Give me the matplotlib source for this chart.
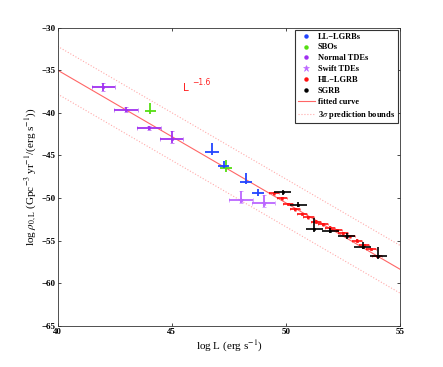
import numpy as np
import matplotlib
matplotlib.use("Agg")
import matplotlib.pyplot as plt
from matplotlib.lines import Line2D

# ---- data ----
ll_x = [46.76, 47.27, 48.26, 48.77]
ll_y = [-44.57, -46.2, -48.1, -49.45]
ll_xerr = [0.3, 0.26, 0.27, 0.26]
ll_yerr_lo = [0.4, 0.3, 0.3, 0.3]
ll_yerr_hi = [1.0, 0.5, 1.0, 0.5]

sbo_x = [44.06, 47.38]
sbo_y = [-39.8, -46.5]
sbo_xerr = [0.23, 0.25]
sbo_yerr_lo = [0.4, 0.4]
sbo_yerr_hi = [0.9, 1.0]

tde_x = [42.01, 43.0, 44.01, 45.0]
tde_y = [-37.03, -39.65, -41.8, -43.1]
tde_xerr = [0.51, 0.51, 0.51, 0.5]
tde_yerr_lo = [0.4, 0.3, 0.2, 0.4]
tde_yerr_hi = [0.5, 0.3, 0.2, 1.0]

swift_x = [48.03, 49.02]
swift_y = [-50.23, -50.6]
swift_xerr = [0.52, 0.51]
swift_yerr_lo = [0.3, 0.4]
swift_yerr_hi = [1.0, 1.0]

hl_x = [49.49, 49.82, 50.11, 50.40, 50.70, 50.99, 51.32, 51.62, 51.94, 52.23,
        52.52, 52.81, 53.13, 53.44, 53.73, 53.99]
hl_y = [-49.45, -50.04, -50.7, -51.33, -51.9, -52.27, -52.77, -53.1, -53.48, -53.75,
        -54.14, -54.5, -55.0, -55.5, -55.98, -56.8]
hl_xerr = [0.22] * 16
hl_yerr = [0.15] * 16

sg_x = [49.86, 50.55, 51.25, 51.94, 52.67, 53.37, 54.05]
sg_y = [-49.34, -50.8, -53.67, -53.83, -54.45, -55.7, -56.76]
sg_xerr = [0.37, 0.37, 0.37, 0.37, 0.37, 0.37, 0.37]
sg_yerr_lo = [0.3, 0.3, 0.3, 0.3, 0.3, 0.3, 0.4]
sg_yerr_hi = [0.3, 0.3, 1.3, 0.3, 0.3, 0.5, 1.05]

fit_intercept = -35.0   # at log L = 40
fit_slope = -1.557
bound_offset = 2.8

plt.rcParams['font.family'] = ['Liberation Serif', 'DejaVu Serif']
plt.rcParams['mathtext.fontset'] = 'stix'

fig = plt.figure(figsize=(4.43, 3.67), dpi=100)
ax = fig.add_axes([0.130, 0.112, 0.773, 0.813])

xl = np.array([40.0, 55.0])
yfit = fit_intercept + fit_slope * (xl - 40)
ax.plot(xl, yfit, color='#ff6666', lw=0.8, zorder=1)
ax.plot(xl, yfit + bound_offset, color='#ffaaaa', lw=0.8, ls=':', zorder=1)
ax.plot(xl, yfit - bound_offset, color='#ffaaaa', lw=0.8, ls=':', zorder=1)

ax.errorbar(tde_x, tde_y, xerr=tde_xerr, yerr=[tde_yerr_lo, tde_yerr_hi],
            color='#a030f0', marker='s', ms=2.0, mew=0.4, elinewidth=1.3, capsize=1.5, ls='none', zorder=3)
ax.errorbar(swift_x, swift_y, xerr=swift_xerr, yerr=[swift_yerr_lo, swift_yerr_hi],
            color='#bb66ff', marker='*', ms=3.5, mew=0.4, elinewidth=1.3, capsize=1.5, ls='none', zorder=3)
ax.errorbar(sbo_x, sbo_y, xerr=sbo_xerr, yerr=[sbo_yerr_lo, sbo_yerr_hi],
            color='#55dd11', marker='none', elinewidth=1.3, ls='none', zorder=3)
ax.errorbar(ll_x, ll_y, xerr=ll_xerr, yerr=[ll_yerr_lo, ll_yerr_hi],
            color='#2244ff', marker='none', elinewidth=1.3, ls='none', zorder=3)
ax.errorbar(hl_x, hl_y, xerr=hl_xerr, yerr=hl_yerr,
            color='#ff1111', marker='s', ms=1.8, mew=0.4, elinewidth=1.2, capsize=1.0, ls='none', zorder=4)
ax.errorbar(sg_x, sg_y, xerr=sg_xerr, yerr=[sg_yerr_lo, sg_yerr_hi],
            color='black', marker='s', ms=1.5, mew=0.4, elinewidth=1.2, ls='none', zorder=5)

ax.text(45.5, -37.1, 'L', color='#ff2222', fontsize=7.5,
        family='DejaVu Sans', va='center', ha='left')
ax.text(45.88, -36.5, '\u22121.6', color='#ff2222', fontsize=5.5,
        family='DejaVu Sans', va='center', ha='left')

ax.set_xlim(40, 55)
ax.set_ylim(-65, -30)
ax.set_xticks([40, 45, 50, 55])
ax.set_yticks([-65, -60, -55, -50, -45, -40, -35, -30])
ax.set_xticklabels(['40', '45', '50', '55'], fontweight='bold', fontsize=6.5)
ax.set_yticklabels(['\u221265', '\u221260', '\u221255', '\u221250', '\u221245', '\u221240', '\u221235', '\u221230'],
                   fontweight='bold', fontsize=6.5)
ax.tick_params(direction='in', top=True, right=True, length=2.5, width=0.5, pad=1.5)
for s in ax.spines.values():
    s.set_linewidth(0.6)
    s.set_color('#333333')

ax.set_xlabel(r'log L (erg s$^{-1}$)', fontsize=8, labelpad=2)
ax.set_ylabel(r'log $\rho_{0,\mathrm{L}}$ (Gpc$^{-3}$ yr$^{-1}$/(erg s$^{-1}$))', fontsize=8, labelpad=2)

handles = [
    Line2D([], [], color='#2244ff', marker='o', ms=2.2, ls='none'),
    Line2D([], [], color='#55dd11', marker='o', ms=2.2, ls='none'),
    Line2D([], [], color='#a030f0', marker='o', ms=2.2, ls='none'),
    Line2D([], [], color='#bb66ff', marker='*', ms=5, mew=0.4, ls='none'),
    Line2D([], [], color='#ff1111', marker='o', ms=2.2, ls='none'),
    Line2D([], [], color='black', marker='o', ms=2.2, ls='none'),
    Line2D([], [], color='#ff6666', lw=0.8),
    Line2D([], [], color='#ffaaaa', lw=0.8, ls=':'),
]
labels = ['LL\u2212LGRBs', 'SBOs', 'Normal TDEs', 'Swift TDEs', 'HL\u2212LGRB', 'SGRB',
          'fitted curve', r'3$\sigma$ prediction bounds']
leg = ax.legend(handles, labels, loc='upper right', prop={'weight': 'bold', 'size': 6},
                frameon=True, fancybox=False, edgecolor='#333333', framealpha=1,
                borderpad=0.3, labelspacing=0.35, handlelength=2.0, handletextpad=0.4,
                borderaxespad=0.3)
leg.get_frame().set_linewidth(0.8)

fig.savefig('out.png', dpi=100)
